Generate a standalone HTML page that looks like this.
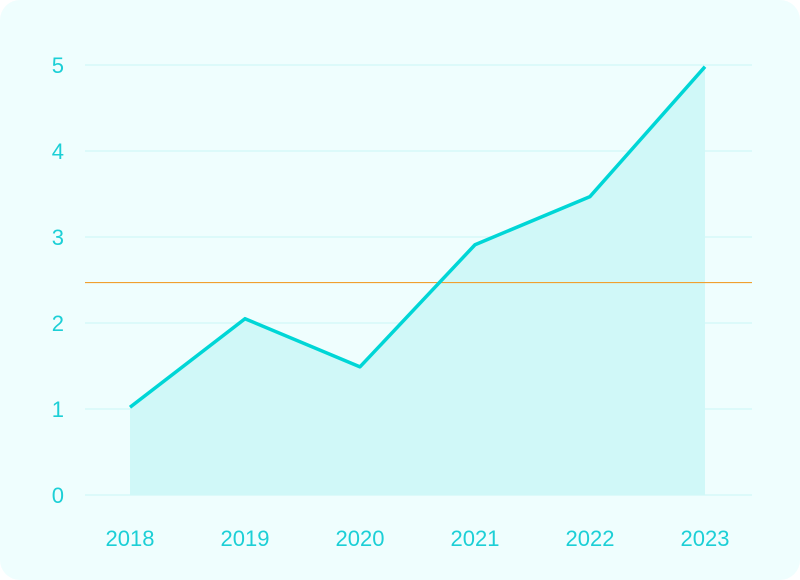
<!DOCTYPE html>
<html><head><meta charset="utf-8"><style>
html,body{margin:0;padding:0;background:#fff}
#card{position:absolute;left:0;top:0;width:800px;height:580px;background:#effefe;border-radius:20px;overflow:hidden}
svg text{font-family:"Liberation Sans",sans-serif;font-size:22px;fill:#1ccfd6}
</style></head><body>
<div id="card">
<svg id="chart" width="800" height="580"></svg>
</div>
<script>
const categories=["2018","2019","2020","2021","2022","2023"];
const values=[1.02,2.05,1.49,2.91,3.47,4.98];
const yTicks=[0,1,2,3,4,5];
const referenceValue=2.47;
const NS="http://www.w3.org/2000/svg";
const svg=document.getElementById('chart');
const x0=130,xStep=115,yBase=495,yUnit=86;
const xs=i=>x0+i*xStep;
const ys=v=>yBase-v*yUnit;
function mk(tag,attrs,parent){const e=document.createElementNS(NS,tag);for(const k in attrs)e.setAttribute(k,attrs[k]);(parent||svg).appendChild(e);return e;}
yTicks.forEach(t=>{
  const g=mk('line',{x1:85,x2:752,y1:ys(t),y2:ys(t),stroke:'#d6f8f8','stroke-width':1.5});
  
  
  const l=mk('text',{x:64,y:ys(t)+8,'text-anchor':'end'});
  l.textContent=t;
  
  
});
categories.forEach((c,i)=>{
  const l=mk('text',{x:xs(i),y:546,'text-anchor':'middle'});
  l.textContent=c;
  
  
});
let pts=values.map((v,i)=>xs(i)+','+ys(v)).join(' ');
const area=mk('polygon',{points:xs(0)+','+ys(0)+' '+pts+' '+xs(values.length-1)+','+ys(0),fill:'#d0f8f8'});


const ref=mk('line',{x1:85,x2:752,y1:ys(referenceValue),y2:ys(referenceValue),stroke:'#f0a030','stroke-width':1.2});


const line=mk('polyline',{points:pts,fill:'none',stroke:'#00d6d6','stroke-width':3.5,'stroke-linejoin':'round'});


</script>
</body></html>
